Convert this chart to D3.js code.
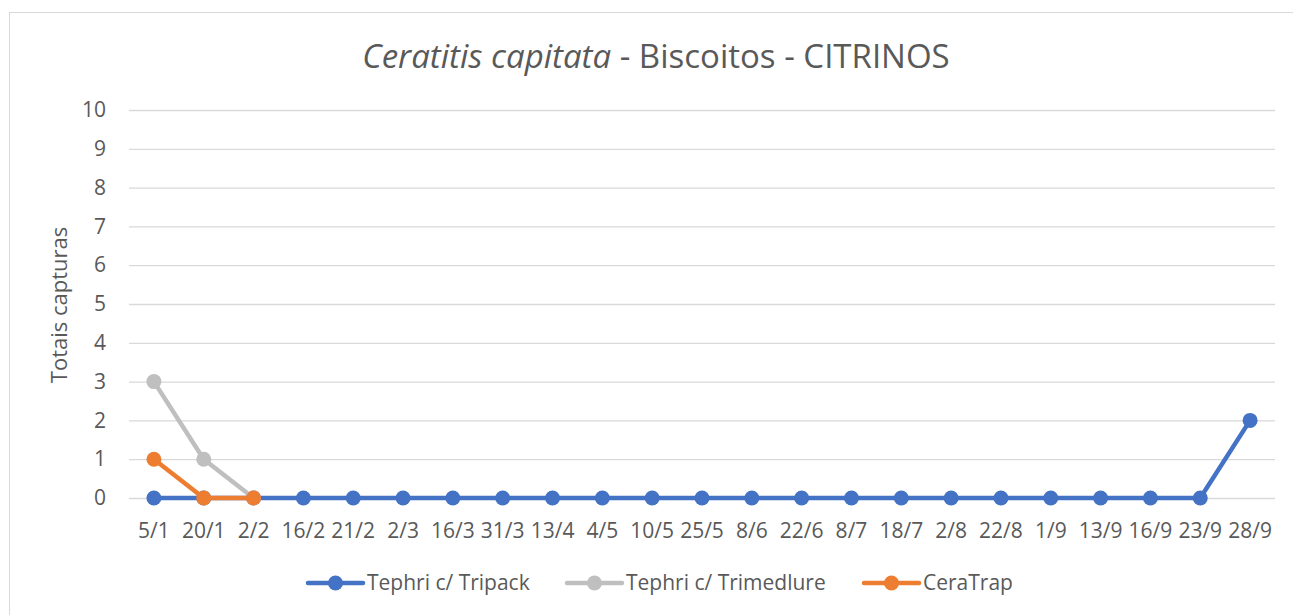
<!DOCTYPE html>
<html>
    <head>
        <title>Ceratitis capitata</title>
        <style>
body {
    margin: 0;
    background: #fff;
}
svg text {
    font-family: "Open Sans", "Noto Sans", sans-serif;
    fill: #595959;
}
        </style>
    </head>
    <body>
        <div id="chart"></div>
        <script src="https://d3js.org/d3.v7.min.js"></script>
        <script>
const dates = ["5/1", "20/1", "2/2", "16/2", "21/2", "2/3", "16/3", "31/3", "13/4", "4/5", "10/5",
    "25/5", "8/6", "22/6", "8/7", "18/7", "2/8", "22/8", "1/9", "13/9", "16/9", "23/9", "28/9"]
const tripack = [0, 0, 0, 0, 0, 0, 0, 0, 0, 0, 0, 0, 0, 0, 0, 0, 0, 0, 0, 0, 0, 0, 2]
const trimedlure = [3, 1, 0]
const ceratrap = [1, 0, 0]
const yTicks = [0, 1, 2, 3, 4, 5, 6, 7, 8, 9, 10]

const series = [
    {name: "Tephri c/ Tripack", values: tripack, color: "#4472C4"},
    {name: "Tephri c/ Trimedlure", values: trimedlure, color: "#BFBFBF"},
    {name: "CeraTrap", values: ceratrap, color: "#ED7D31"}
]

const W = 1293, H = 615
const margin = {top: 110, right: 18, bottom: 117, left: 129}
const width = W - margin.left - margin.right
const height = H - margin.top - margin.bottom

const svg = d3.select("#chart").append("svg")
    .attr("width", W)
    .attr("height", H)

// cadre
svg.append("rect")
    .attr("x", 9.5).attr("y", 12.5)
    .attr("width", W).attr("height", H)
    .attr("fill", "none")
    .attr("stroke", "#D9D9D9")

// title
const title = svg.append("text")
    .attr("x", 656).attr("y", 68)
    .attr("text-anchor", "middle")
    .style("font-size", "33px")
title.append("tspan").style("font-style", "italic").text("Ceratitis capitata")
title.append("tspan").text(" - Biscoitos - CITRINOS")

const g = svg.append("g")
    .attr("transform", "translate(" + margin.left + "," + margin.top + ")")

const x = d3.scaleBand()
    .domain(dates)
    .range([0, width])
const y = d3.scaleLinear()
    .domain([0, 10])
    .range([height, 0])

// gridlines
g.append("g")
    .call(d3.axisLeft(y).tickValues(yTicks).tickSize(-width).tickFormat(""))
    .call(a => a.select(".domain").remove())
    .selectAll("line")
        .attr("stroke", "#D9D9D9")
        .attr("stroke-width", 1.3)

// y labels
g.append("g")
    .call(d3.axisLeft(y).tickValues(yTicks).tickSize(0).tickPadding(23))
    .call(a => a.select(".domain").remove())
    .selectAll("text")
        .style("font-size", "21px")
        .attr("fill", "#595959")

// x labels
g.append("g")
    .attr("transform", "translate(0," + height + ")")
    .call(d3.axisBottom(x).tickSize(0).tickPadding(25))
    .call(a => a.select(".domain").remove())
    .selectAll("text")
        .style("font-size", "21px")
        .attr("fill", "#595959")

// y axis title
svg.append("text")
    .attr("transform", "translate(67,305) rotate(-90)")
    .attr("text-anchor", "middle")
    .style("font-size", "22px")
    .text("Totais capturas")

const line = d3.line()
    .x((d, i) => x(dates[i]) + x.bandwidth() / 2)
    .y(d => y(d))

series.forEach(s => {
    g.append("path")
        .datum(s.values)
        .attr("fill", "none")
        .attr("stroke", s.color)
        .attr("stroke-width", 4.5)
        .attr("stroke-linejoin", "round")
        .attr("d", line)
    g.selectAll(null)
        .data(s.values)
        .enter()
        .append("circle")
        .attr("cx", (d, i) => x(dates[i]) + x.bandwidth() / 2)
        .attr("cy", d => y(d))
        .attr("r", 7.5)
        .attr("fill", s.color)
})

// legend
const legendX = [308, 567, 864]
series.forEach((s, i) => {
    const lg = svg.append("g").attr("transform", "translate(" + legendX[i] + ",583)")
    lg.append("line")
        .attr("x1", 0).attr("x2", 55)
        .attr("stroke", s.color)
        .attr("stroke-width", 4.5)
        .attr("stroke-linecap", "round")
    lg.append("circle")
        .attr("cx", 27.5).attr("r", 7.5)
        .attr("fill", s.color)
    lg.append("text")
        .attr("x", 59).attr("y", 7)
        .style("font-size", "21px")
        .text(s.name)
})
        </script>
    </body>
</html>
